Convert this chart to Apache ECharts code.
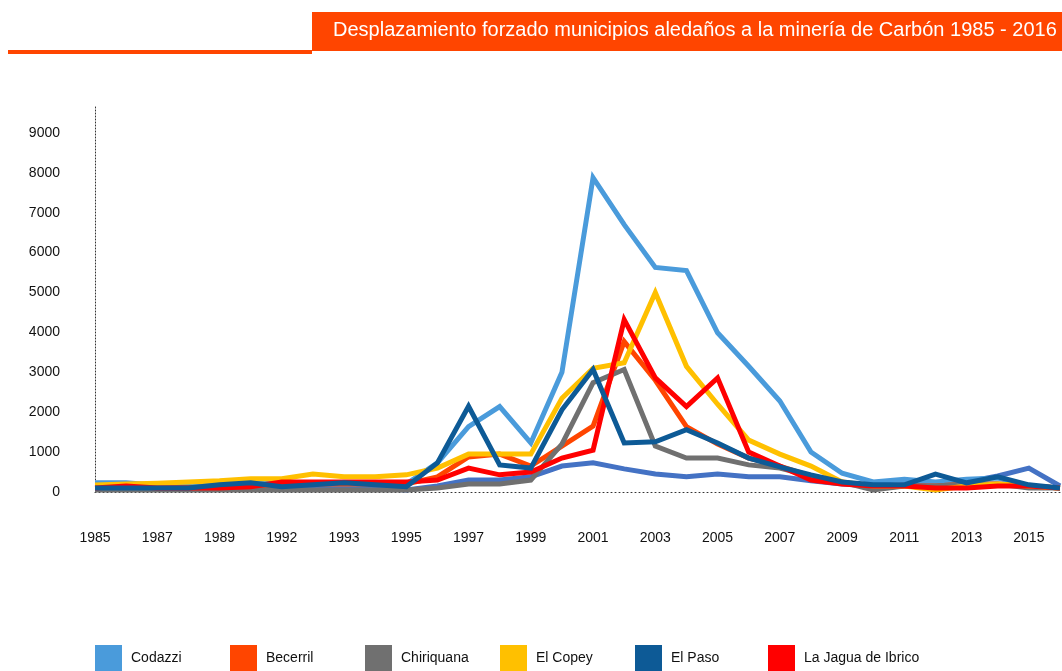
<!DOCTYPE html>
<html>
<head>
<meta charset="utf-8">
<script src="https://cdn.jsdelivr.net/npm/echarts@6/dist/echarts.min.js"></script>
<style>
  html, body { margin: 0; padding: 0; background: #fff; }
  #chart { width: 1062px; height: 671px; }
</style>
</head>
<body>
<div id="chart"></div>
<script>
// años 1985 - 2016
const years = ['1985', '1986', '1987', '1988', '1989', '1990', '1991', '1992', '1993', '1994',
  '1995', '1996', '1997', '1998', '1999', '2000', '2001', '2002', '2003', '2004',
  '2005', '2006', '2007', '2008', '2009', '2010', '2011', '2012', '2013', '2014', '2015', '2016']
// etiquetas del eje x tal como aparecen (una de cada dos)
const tickLabels = ['1985', '1987', '1989', '1992', '1993', '1995', '1997', '1999',
  '2001', '2003', '2005', '2007', '2009', '2011', '2013', '2015']
const yTicks = [0, 1000, 2000, 3000, 4000, 5000, 6000, 7000, 8000, 9000]

const codazzi = [230, 230, 170, 200, 250, 250, 200, 200, 200, 200, 200, 730, 1640, 2140, 1230, 3000,
  7880, 6700, 5630, 5550, 3990, 3150, 2280, 1000, 470, 250, 320, 250, 320, 350, 150, 100]
const becerril = [150, 150, 100, 100, 150, 150, 150, 200, 200, 200, 200, 380, 880, 950, 650, 1150,
  1650, 3770, 2800, 1640, 1200, 850, 650, 400, 250, 100, 150, 150, 200, 200, 150, 100]
const chiriguana = [50, 50, 50, 50, 50, 50, 50, 50, 50, 50, 50, 100, 200, 200, 300, 1200,
  2740, 3070, 1150, 850, 850, 680, 600, 400, 250, 50, 150, 150, 200, 200, 100, 100]
const elCopey = [175, 200, 220, 250, 280, 330, 330, 450, 380, 380, 430, 600, 950, 950, 950, 2350,
  3100, 3240, 5000, 3150, 2200, 1300, 950, 650, 250, 150, 150, 50, 150, 200, 150, 100]
const elPaso = [100, 100, 100, 100, 180, 230, 130, 180, 230, 180, 130, 730, 2150, 680, 600, 2060,
  3070, 1230, 1260, 1560, 1230, 850, 630, 430, 250, 180, 180, 450, 230, 380, 180, 100]
const laJagua = [100, 150, 100, 100, 100, 130, 250, 250, 250, 250, 250, 300, 600, 430, 500, 850,
  1050, 4320, 2860, 2140, 2860, 1000, 650, 300, 200, 150, 150, 100, 100, 150, 150, 100]
const otro = [80, 80, 80, 80, 80, 80, 100, 100, 100, 100, 50, 150, 300, 300, 380, 650,
  730, 580, 450, 380, 450, 380, 380, 280, 200, 150, 180, 200, 250, 400, 600, 150]

const legendNames = ['Codazzi', 'Becerril', 'Chiriquana', 'El Copey', 'El Paso', 'La Jagua de Ibrico']
const legendLeft = [95, 230, 365, 500, 635, 768]

const myChart = echarts.init(document.getElementById('chart'))

const lineSeries = (name, data, color) => ({
  name: name,
  type: 'line',
  data: data,
  symbol: 'none',
  lineStyle: { width: 5, color: color, join: 'miter' },
  itemStyle: { color: color }
})

myChart.setOption({
  animation: false,
  textStyle: { fontFamily: 'Liberation Sans, Arial, sans-serif' },

  graphic: [
    {
      type: 'rect',
      shape: { x: 312, y: 12, width: 750, height: 39 },
      style: { fill: '#ff4500' }
    },
    {
      type: 'rect',
      shape: { x: 8, y: 50, width: 304, height: 4 },
      style: { fill: '#ff4500' }
    },
    {
      type: 'text',
      left: 333,
      top: 20,
      style: {
        text: 'Desplazamiento forzado municipios aledaños a la minería de Carbón 1985 - 2016',
        fill: '#fff',
        fontSize: 20,
        fontFamily: 'Liberation Sans, Arial, sans-serif'
      }
    }
  ],

  // leyenda, un bloque por municipio
  legend: legendNames.map((n, i) => ({
    data: [n],
    left: legendLeft[i],
    top: 645,
    padding: 0,
    itemWidth: 27,
    itemHeight: 27,
    icon: 'rect',
    selectedMode: false,
    textStyle: { color: '#111', fontSize: 14, padding: [0, 0, 0, 4] }
  })),

  grid: {
    left: 95,
    right: 2,
    top: 105,
    bottom: 179,
    containLabel: false
  },

  xAxis: {
    type: 'category',
    data: years,
    boundaryGap: false,
    axisLine: {
      show: true,
      lineStyle: { color: '#333', type: [1, 3], width: 1 }
    },
    axisTick: { show: false },
    axisLabel: {
      interval: 1,
      margin: 39,
      color: '#111',
      fontSize: 14,
      formatter: (v, i) => tickLabels[i / 2] || ''
    },
    splitLine: { show: false }
  },

  yAxis: {
    type: 'value',
    min: 0,
    max: 9700,
    interval: 1000,
    axisLine: {
      show: true,
      lineStyle: { color: '#333', type: [1, 2], width: 1 }
    },
    axisTick: { show: false },
    axisLabel: {
      color: '#111',
      fontSize: 14,
      margin: 35,
      showMaxLabel: false,
      formatter: v => (yTicks.indexOf(v) >= 0 ? String(v) : '')
    },
    splitLine: { show: false }
  },

  series: [
    lineSeries('Otro', otro, '#4472c4'),
    lineSeries('Codazzi', codazzi, '#4a9bdb'),
    lineSeries('Becerril', becerril, '#ff4500'),
    lineSeries('Chiriquana', chiriguana, '#707070'),
    lineSeries('El Copey', elCopey, '#ffc000'),
    lineSeries('La Jagua de Ibrico', laJagua, '#ff0000'),
    lineSeries('El Paso', elPaso, '#0d5a96')
  ]
})
</script>
</body>
</html>
